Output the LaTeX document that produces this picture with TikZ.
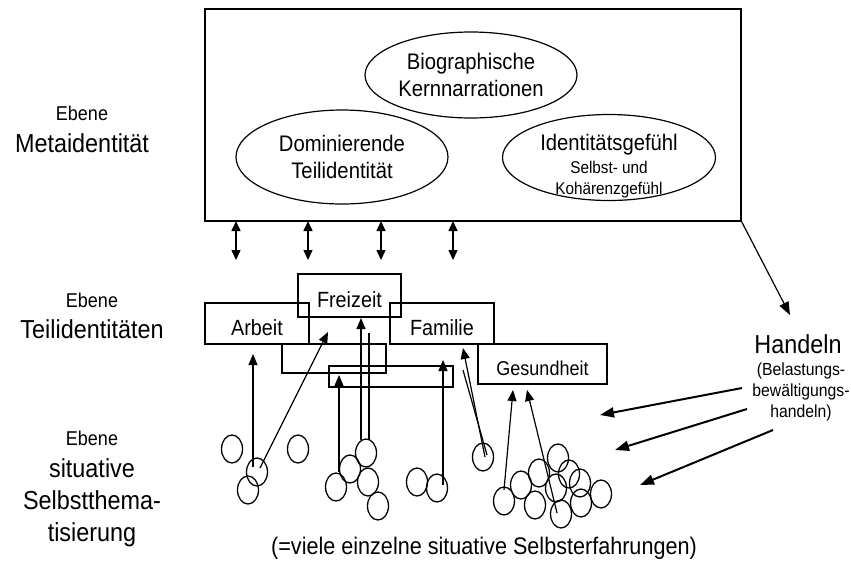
\documentclass[tikz,border=0pt]{standalone}
\usepackage{fontspec}
\setmainfont{Liberation Sans}[FakeStretch=0.9]
\usetikzlibrary{arrows.meta,shapes.geometric,calc}
\newcommand{\fsz}[2]{\fontsize{#1}{#2}\selectfont}
\begin{document}
\begin{tikzpicture}[x=1pt,y=-1pt,
  frame/.style={draw, line width=1.2pt, inner sep=0pt},
  oval/.style={ellipse, draw, line width=1.2pt, inner sep=0pt, align=center, font=\fsz{22.5}{27}},
  tbox/.style={draw, line width=1.2pt, inner sep=0pt, text height=24pt, text depth=0pt, font=\fsz{22}{26}},
  bubble/.style={ellipse, draw, line width=1.3pt, minimum width=21pt, minimum height=28pt, inner sep=0pt},
  up/.style={line width=1.2pt, -{Triangle[length=11pt,width=9pt]}},
  plain/.style={line width=1.2pt},
  both/.style={line width=1.4pt, {Triangle[length=10pt,width=9pt]}-{Triangle[length=10pt,width=9pt]}},
  act/.style={line width=2pt, -{Triangle[length=14pt,width=10pt]}},
  small/.style={inner sep=0pt, anchor=base, font=\fsz{20}{24}},
  big/.style={inner sep=0pt, anchor=base, font=\fsz{26}{32}},
]
\useasboundingbox (0,0) rectangle (851,563);

% level captions
\node[small] (lvmetaA) at (82,120) {Ebene};
\node[big] (lvmetaB) at (82,152) {Metaidentität};
\node[small] (lvteilA) at (92,307) {Ebene};
\node[big] (lvteilB) at (92,338) {Teilidentitäten};
\node[small] (lvsitA) at (92,445) {Ebene};
\node[big, align=center, anchor=north] (lvsitB) at (92,458) {situative\\Selbstthema-\\tisierung};

% meta identity
\node[frame, minimum width=536pt, minimum height=212pt] (meta) at (473,115) {};
\node[oval, minimum width=212pt, minimum height=86pt] (bio) at (471,75) {Biographische\\Kernnarrationen};
\node[oval, minimum width=212pt, minimum height=94pt] (dom) at (342,157) {Dominierende\\Teilidentität};
\node[oval, minimum width=213pt, minimum height=86pt] (gef) at (609,157.5) {};
\node[inner sep=0pt, anchor=base, font=\fsz{22.5}{27}] (geftxtA) at (609,150) {Identitätsgefühl};
\node[inner sep=0pt, anchor=north, align=center, font=\fsz{17}{21}] (geftxtB) at (609,161) {Selbst- und\\Kohärenzgefühl};

% exchange between the levels
\foreach \i/\x in {1/236,2/308,3/381,4/453}{
  \coordinate (d\i a) at (\x,221);
  \coordinate (d\i b) at (\x,260);
  \draw[both] (d\i a) -- (d\i b);
}

% partial identities
\node[frame, minimum width=104pt, minimum height=29pt] (r1) at (334,358.5) {};
\node[frame, minimum width=124pt, minimum height=21pt] (r2) at (391,376.5) {};
\node[tbox, minimum width=103pt, minimum height=43pt] (freizeit) at (349.5,295.5) {Freizeit};
\node[tbox, minimum width=104pt, minimum height=41pt] (arbeit) at (257,323.5) {Arbeit};
\node[tbox, minimum width=104pt, minimum height=41pt] (familie) at (442,323.5) {Familie};
\node[tbox, minimum width=129pt, minimum height=40pt, font=\fsz{20}{24}, text height=22pt] (gesund) at (542.5,364) {Gesundheit};

% situational self-experiences
\foreach \n/\x/\y in {1/232/449, 2/257/472, 3/248/490, 4/298/449,
  5/336/487, 6/350/469, 7/366/453, 8/368/482, 9/378/506,
  10/417/482, 11/437/488, 12/483/457,
  13/504/501, 14/521/485, 15/535/505, 16/539/473, 17/558/458, 18/556/488,
  19/561/514, 20/569/474, 21/580/483, 22/581/503, 23/601/494}{
  \node[bubble] (c\n) at (\x,\y) {};
}

% arrow tips towards the partial identities
\coordinate (t1) at (253,354);
\coordinate (t2) at (328,332);
\coordinate (t3) at (339,375);
\coordinate (t4) at (361,318);
\coordinate (t6) at (443,360);
\coordinate (t7) at (463,348);
\coordinate (t8) at (513,390);
\coordinate (t9) at (527,390);
\coordinate (l5) at (369,333);
\coordinate (l7) at (463,370);

\draw[up] ($(c2)+(-4,-5)$) -- (t1);
\draw[up] ($(c2)+(3,-4)$) -- (t2);
\draw[up] ($(c5)+(3,-15)$) -- (t3);
\draw[up] ($(c7)+(-5,-13)$) -- (t4);
\draw[plain] ($(c7)+(3,-13)$) -- (l5);
\draw[up] ($(c11)+(6,-3)$) -- (t6);
\draw[up] ($(c12)+(2,0)$) -- (t7);
\draw[plain] ($(c12)+(4,-2)$) -- (l7);
\draw[up] ($(c13)+(0,-11)$) -- (t8);
\draw[up] ($(c19)+(-4,-1)$) -- (t9);

% acting
\node[inner sep=0pt, font=\fsz{26}{30}] (handeln) at (798,344) {Handeln};
\node[align=center, inner sep=0pt, anchor=north, font=\fsz{17.5}{21}] (handsub) at (801,363) {(Belastungs-\\bewältigungs-\\handeln)};
\coordinate (htip) at (790,315);
\draw[line width=1.2pt, -{Triangle[length=13pt,width=10pt]}] (meta.south east) -- (htip);

\coordinate (h1s) at (742,388);
\coordinate (h2s) at (747,409);
\coordinate (h3s) at (773,430);
\coordinate (h1t) at (600,415);
\coordinate (h2t) at (615,450);
\coordinate (h3t) at (640,485);
\draw[act] (h1s) -- (h1t);
\draw[act] (h2s) -- (h2t);
\draw[act] (h3s) -- (h3t);

\node[inner sep=0pt, font=\fsz{24}{28}] (note) at (484,548) {(=viele einzelne situative Selbsterfahrungen)};
\end{tikzpicture}
\end{document}
